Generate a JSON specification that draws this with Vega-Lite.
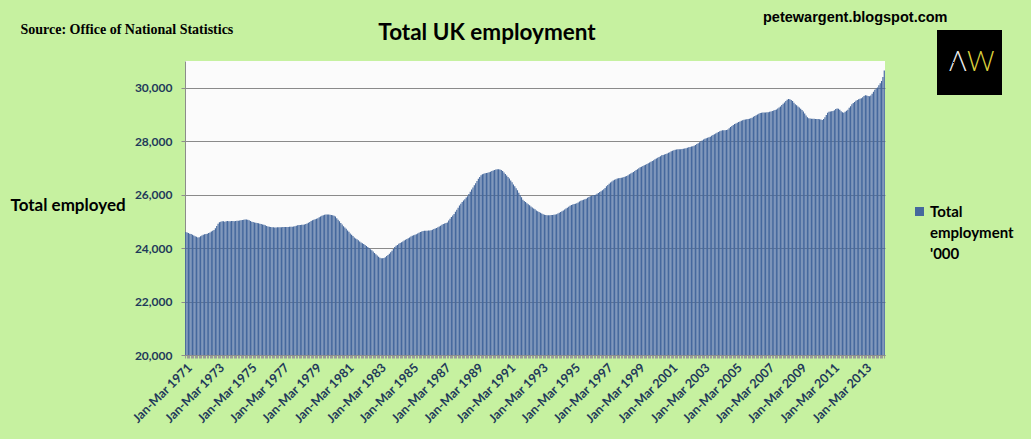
{
  "$schema": "https://vega.github.io/schema/vega-lite/v6.json",
  "width": 700,
  "height": 294,
  "autosize": "none",
  "padding": {"left": 185, "top": 61, "right": 146, "bottom": 84},
  "background": "#c6f1a0",
  "title": {
    "text": "Total UK employment",
    "font": "Lato",
    "fontSize": 22.5,
    "fontWeight": "bold",
    "color": "#000000",
    "anchor": "middle",
    "frame": "group",
    "dx": -48,
    "offset": -35
  },
  "data": {
    "values": [
      {"period": "Jan-Mar 1971", "employed": 24600}, {"period": "Feb-Apr 1971", "employed": 24580}, {"period": "Mar-May 1971", "employed": 24560}, {"period": "Apr-Jun 1971", "employed": 24540}, {"period": "May-Jul 1971", "employed": 24530}, {"period": "Jun-Aug 1971", "employed": 24500}, {"period": "Jul-Sep 1971", "employed": 24470}, {"period": "Aug-Oct 1971", "employed": 24440}, {"period": "Sep-Nov 1971", "employed": 24420}, {"period": "Oct-Dec 1971", "employed": 24400}, {"period": "Nov-Jan 1972", "employed": 24410}, {"period": "Dec-Feb 1972", "employed": 24440},
      {"period": "Jan-Mar 1972", "employed": 24470}, {"period": "Feb-Apr 1972", "employed": 24500}, {"period": "Mar-May 1972", "employed": 24520}, {"period": "Apr-Jun 1972", "employed": 24530}, {"period": "May-Jul 1972", "employed": 24540}, {"period": "Jun-Aug 1972", "employed": 24560}, {"period": "Jul-Sep 1972", "employed": 24580}, {"period": "Aug-Oct 1972", "employed": 24620}, {"period": "Sep-Nov 1972", "employed": 24650}, {"period": "Oct-Dec 1972", "employed": 24680}, {"period": "Nov-Jan 1973", "employed": 24740}, {"period": "Dec-Feb 1973", "employed": 24830},
      {"period": "Jan-Mar 1973", "employed": 24910}, {"period": "Feb-Apr 1973", "employed": 24970}, {"period": "Mar-May 1973", "employed": 24990}, {"period": "Apr-Jun 1973", "employed": 25000}, {"period": "May-Jul 1973", "employed": 25000}, {"period": "Jun-Aug 1973", "employed": 24990}, {"period": "Jul-Sep 1973", "employed": 25000}, {"period": "Aug-Oct 1973", "employed": 25010}, {"period": "Sep-Nov 1973", "employed": 25000}, {"period": "Oct-Dec 1973", "employed": 25000}, {"period": "Nov-Jan 1974", "employed": 25010}, {"period": "Dec-Feb 1974", "employed": 25010},
      {"period": "Jan-Mar 1974", "employed": 25000}, {"period": "Feb-Apr 1974", "employed": 25010}, {"period": "Mar-May 1974", "employed": 25020}, {"period": "Apr-Jun 1974", "employed": 25020}, {"period": "May-Jul 1974", "employed": 25030}, {"period": "Jun-Aug 1974", "employed": 25040}, {"period": "Jul-Sep 1974", "employed": 25050}, {"period": "Aug-Oct 1974", "employed": 25060}, {"period": "Sep-Nov 1974", "employed": 25070}, {"period": "Oct-Dec 1974", "employed": 25070}, {"period": "Nov-Jan 1975", "employed": 25060}, {"period": "Dec-Feb 1975", "employed": 25040},
      {"period": "Jan-Mar 1975", "employed": 25010}, {"period": "Feb-Apr 1975", "employed": 24990}, {"period": "Mar-May 1975", "employed": 24980}, {"period": "Apr-Jun 1975", "employed": 24960}, {"period": "May-Jul 1975", "employed": 24950}, {"period": "Jun-Aug 1975", "employed": 24940}, {"period": "Jul-Sep 1975", "employed": 24930}, {"period": "Aug-Oct 1975", "employed": 24910}, {"period": "Sep-Nov 1975", "employed": 24900}, {"period": "Oct-Dec 1975", "employed": 24880}, {"period": "Nov-Jan 1976", "employed": 24870}, {"period": "Dec-Feb 1976", "employed": 24850},
      {"period": "Jan-Mar 1976", "employed": 24830}, {"period": "Feb-Apr 1976", "employed": 24810}, {"period": "Mar-May 1976", "employed": 24800}, {"period": "Apr-Jun 1976", "employed": 24790}, {"period": "May-Jul 1976", "employed": 24780}, {"period": "Jun-Aug 1976", "employed": 24780}, {"period": "Jul-Sep 1976", "employed": 24770}, {"period": "Aug-Oct 1976", "employed": 24770}, {"period": "Sep-Nov 1976", "employed": 24780}, {"period": "Oct-Dec 1976", "employed": 24780}, {"period": "Nov-Jan 1977", "employed": 24780}, {"period": "Dec-Feb 1977", "employed": 24780},
      {"period": "Jan-Mar 1977", "employed": 24790}, {"period": "Feb-Apr 1977", "employed": 24790}, {"period": "Mar-May 1977", "employed": 24790}, {"period": "Apr-Jun 1977", "employed": 24790}, {"period": "May-Jul 1977", "employed": 24790}, {"period": "Jun-Aug 1977", "employed": 24800}, {"period": "Jul-Sep 1977", "employed": 24800}, {"period": "Aug-Oct 1977", "employed": 24800}, {"period": "Sep-Nov 1977", "employed": 24810}, {"period": "Oct-Dec 1977", "employed": 24820}, {"period": "Nov-Jan 1978", "employed": 24840}, {"period": "Dec-Feb 1978", "employed": 24850},
      {"period": "Jan-Mar 1978", "employed": 24860}, {"period": "Feb-Apr 1978", "employed": 24860}, {"period": "Mar-May 1978", "employed": 24870}, {"period": "Apr-Jun 1978", "employed": 24870}, {"period": "May-Jul 1978", "employed": 24880}, {"period": "Jun-Aug 1978", "employed": 24900}, {"period": "Jul-Sep 1978", "employed": 24920}, {"period": "Aug-Oct 1978", "employed": 24950}, {"period": "Sep-Nov 1978", "employed": 24980}, {"period": "Oct-Dec 1978", "employed": 25010}, {"period": "Nov-Jan 1979", "employed": 25040}, {"period": "Dec-Feb 1979", "employed": 25060},
      {"period": "Jan-Mar 1979", "employed": 25080}, {"period": "Feb-Apr 1979", "employed": 25100}, {"period": "Mar-May 1979", "employed": 25120}, {"period": "Apr-Jun 1979", "employed": 25150}, {"period": "May-Jul 1979", "employed": 25180}, {"period": "Jun-Aug 1979", "employed": 25210}, {"period": "Jul-Sep 1979", "employed": 25230}, {"period": "Aug-Oct 1979", "employed": 25250}, {"period": "Sep-Nov 1979", "employed": 25260}, {"period": "Oct-Dec 1979", "employed": 25260}, {"period": "Nov-Jan 1980", "employed": 25260}, {"period": "Dec-Feb 1980", "employed": 25250},
      {"period": "Jan-Mar 1980", "employed": 25240}, {"period": "Feb-Apr 1980", "employed": 25230}, {"period": "Mar-May 1980", "employed": 25210}, {"period": "Apr-Jun 1980", "employed": 25180}, {"period": "May-Jul 1980", "employed": 25120}, {"period": "Jun-Aug 1980", "employed": 25060}, {"period": "Jul-Sep 1980", "employed": 25000}, {"period": "Aug-Oct 1980", "employed": 24940}, {"period": "Sep-Nov 1980", "employed": 24880}, {"period": "Oct-Dec 1980", "employed": 24820}, {"period": "Nov-Jan 1981", "employed": 24770}, {"period": "Dec-Feb 1981", "employed": 24720},
      {"period": "Jan-Mar 1981", "employed": 24660}, {"period": "Feb-Apr 1981", "employed": 24610}, {"period": "Mar-May 1981", "employed": 24550}, {"period": "Apr-Jun 1981", "employed": 24500}, {"period": "May-Jul 1981", "employed": 24450}, {"period": "Jun-Aug 1981", "employed": 24400}, {"period": "Jul-Sep 1981", "employed": 24360}, {"period": "Aug-Oct 1981", "employed": 24330}, {"period": "Sep-Nov 1981", "employed": 24290}, {"period": "Oct-Dec 1981", "employed": 24250}, {"period": "Nov-Jan 1982", "employed": 24210}, {"period": "Dec-Feb 1982", "employed": 24180},
      {"period": "Jan-Mar 1982", "employed": 24150}, {"period": "Feb-Apr 1982", "employed": 24120}, {"period": "Mar-May 1982", "employed": 24080}, {"period": "Apr-Jun 1982", "employed": 24040}, {"period": "May-Jul 1982", "employed": 24000}, {"period": "Jun-Aug 1982", "employed": 23960}, {"period": "Jul-Sep 1982", "employed": 23920}, {"period": "Aug-Oct 1982", "employed": 23870}, {"period": "Sep-Nov 1982", "employed": 23820}, {"period": "Oct-Dec 1982", "employed": 23770}, {"period": "Nov-Jan 1983", "employed": 23720}, {"period": "Dec-Feb 1983", "employed": 23680},
      {"period": "Jan-Mar 1983", "employed": 23640}, {"period": "Feb-Apr 1983", "employed": 23620}, {"period": "Mar-May 1983", "employed": 23620}, {"period": "Apr-Jun 1983", "employed": 23630}, {"period": "May-Jul 1983", "employed": 23660}, {"period": "Jun-Aug 1983", "employed": 23700}, {"period": "Jul-Sep 1983", "employed": 23740}, {"period": "Aug-Oct 1983", "employed": 23790}, {"period": "Sep-Nov 1983", "employed": 23840}, {"period": "Oct-Dec 1983", "employed": 23900}, {"period": "Nov-Jan 1984", "employed": 23970}, {"period": "Dec-Feb 1984", "employed": 24040},
      {"period": "Jan-Mar 1984", "employed": 24090}, {"period": "Feb-Apr 1984", "employed": 24120}, {"period": "Mar-May 1984", "employed": 24160}, {"period": "Apr-Jun 1984", "employed": 24190}, {"period": "May-Jul 1984", "employed": 24220}, {"period": "Jun-Aug 1984", "employed": 24250}, {"period": "Jul-Sep 1984", "employed": 24280}, {"period": "Aug-Oct 1984", "employed": 24310}, {"period": "Sep-Nov 1984", "employed": 24340}, {"period": "Oct-Dec 1984", "employed": 24370}, {"period": "Nov-Jan 1985", "employed": 24400}, {"period": "Dec-Feb 1985", "employed": 24430},
      {"period": "Jan-Mar 1985", "employed": 24460}, {"period": "Feb-Apr 1985", "employed": 24480}, {"period": "Mar-May 1985", "employed": 24500}, {"period": "Apr-Jun 1985", "employed": 24520}, {"period": "May-Jul 1985", "employed": 24550}, {"period": "Jun-Aug 1985", "employed": 24570}, {"period": "Jul-Sep 1985", "employed": 24600}, {"period": "Aug-Oct 1985", "employed": 24620}, {"period": "Sep-Nov 1985", "employed": 24640}, {"period": "Oct-Dec 1985", "employed": 24650}, {"period": "Nov-Jan 1986", "employed": 24650}, {"period": "Dec-Feb 1986", "employed": 24650},
      {"period": "Jan-Mar 1986", "employed": 24660}, {"period": "Feb-Apr 1986", "employed": 24660}, {"period": "Mar-May 1986", "employed": 24670}, {"period": "Apr-Jun 1986", "employed": 24690}, {"period": "May-Jul 1986", "employed": 24710}, {"period": "Jun-Aug 1986", "employed": 24730}, {"period": "Jul-Sep 1986", "employed": 24750}, {"period": "Aug-Oct 1986", "employed": 24780}, {"period": "Sep-Nov 1986", "employed": 24810}, {"period": "Oct-Dec 1986", "employed": 24840}, {"period": "Nov-Jan 1987", "employed": 24870}, {"period": "Dec-Feb 1987", "employed": 24900},
      {"period": "Jan-Mar 1987", "employed": 24920}, {"period": "Feb-Apr 1987", "employed": 24940}, {"period": "Mar-May 1987", "employed": 24960}, {"period": "Apr-Jun 1987", "employed": 25030}, {"period": "May-Jul 1987", "employed": 25100}, {"period": "Jun-Aug 1987", "employed": 25160}, {"period": "Jul-Sep 1987", "employed": 25220}, {"period": "Aug-Oct 1987", "employed": 25280}, {"period": "Sep-Nov 1987", "employed": 25360}, {"period": "Oct-Dec 1987", "employed": 25430}, {"period": "Nov-Jan 1988", "employed": 25510}, {"period": "Dec-Feb 1988", "employed": 25590},
      {"period": "Jan-Mar 1988", "employed": 25660}, {"period": "Feb-Apr 1988", "employed": 25720}, {"period": "Mar-May 1988", "employed": 25780}, {"period": "Apr-Jun 1988", "employed": 25830}, {"period": "May-Jul 1988", "employed": 25890}, {"period": "Jun-Aug 1988", "employed": 25940}, {"period": "Jul-Sep 1988", "employed": 26020}, {"period": "Aug-Oct 1988", "employed": 26110}, {"period": "Sep-Nov 1988", "employed": 26190}, {"period": "Oct-Dec 1988", "employed": 26270}, {"period": "Nov-Jan 1989", "employed": 26350}, {"period": "Dec-Feb 1989", "employed": 26430},
      {"period": "Jan-Mar 1989", "employed": 26510}, {"period": "Feb-Apr 1989", "employed": 26590}, {"period": "Mar-May 1989", "employed": 26660}, {"period": "Apr-Jun 1989", "employed": 26730}, {"period": "May-Jul 1989", "employed": 26760}, {"period": "Jun-Aug 1989", "employed": 26780}, {"period": "Jul-Sep 1989", "employed": 26800}, {"period": "Aug-Oct 1989", "employed": 26810}, {"period": "Sep-Nov 1989", "employed": 26820}, {"period": "Oct-Dec 1989", "employed": 26840}, {"period": "Nov-Jan 1990", "employed": 26860}, {"period": "Dec-Feb 1990", "employed": 26880},
      {"period": "Jan-Mar 1990", "employed": 26900}, {"period": "Feb-Apr 1990", "employed": 26920}, {"period": "Mar-May 1990", "employed": 26940}, {"period": "Apr-Jun 1990", "employed": 26950}, {"period": "May-Jul 1990", "employed": 26950}, {"period": "Jun-Aug 1990", "employed": 26940}, {"period": "Jul-Sep 1990", "employed": 26920}, {"period": "Aug-Oct 1990", "employed": 26880}, {"period": "Sep-Nov 1990", "employed": 26830}, {"period": "Oct-Dec 1990", "employed": 26770}, {"period": "Nov-Jan 1991", "employed": 26720}, {"period": "Dec-Feb 1991", "employed": 26660},
      {"period": "Jan-Mar 1991", "employed": 26600}, {"period": "Feb-Apr 1991", "employed": 26530}, {"period": "Mar-May 1991", "employed": 26460}, {"period": "Apr-Jun 1991", "employed": 26380}, {"period": "May-Jul 1991", "employed": 26310}, {"period": "Jun-Aug 1991", "employed": 26240}, {"period": "Jul-Sep 1991", "employed": 26160}, {"period": "Aug-Oct 1991", "employed": 26070}, {"period": "Sep-Nov 1991", "employed": 25980}, {"period": "Oct-Dec 1991", "employed": 25900}, {"period": "Nov-Jan 1992", "employed": 25810}, {"period": "Dec-Feb 1992", "employed": 25760},
      {"period": "Jan-Mar 1992", "employed": 25720}, {"period": "Feb-Apr 1992", "employed": 25680}, {"period": "Mar-May 1992", "employed": 25640}, {"period": "Apr-Jun 1992", "employed": 25600}, {"period": "May-Jul 1992", "employed": 25560}, {"period": "Jun-Aug 1992", "employed": 25520}, {"period": "Jul-Sep 1992", "employed": 25480}, {"period": "Aug-Oct 1992", "employed": 25450}, {"period": "Sep-Nov 1992", "employed": 25410}, {"period": "Oct-Dec 1992", "employed": 25380}, {"period": "Nov-Jan 1993", "employed": 25350}, {"period": "Dec-Feb 1993", "employed": 25320},
      {"period": "Jan-Mar 1993", "employed": 25290}, {"period": "Feb-Apr 1993", "employed": 25270}, {"period": "Mar-May 1993", "employed": 25250}, {"period": "Apr-Jun 1993", "employed": 25240}, {"period": "May-Jul 1993", "employed": 25230}, {"period": "Jun-Aug 1993", "employed": 25230}, {"period": "Jul-Sep 1993", "employed": 25230}, {"period": "Aug-Oct 1993", "employed": 25240}, {"period": "Sep-Nov 1993", "employed": 25240}, {"period": "Oct-Dec 1993", "employed": 25250}, {"period": "Nov-Jan 1994", "employed": 25260}, {"period": "Dec-Feb 1994", "employed": 25270},
      {"period": "Jan-Mar 1994", "employed": 25290}, {"period": "Feb-Apr 1994", "employed": 25320}, {"period": "Mar-May 1994", "employed": 25350}, {"period": "Apr-Jun 1994", "employed": 25380}, {"period": "May-Jul 1994", "employed": 25410}, {"period": "Jun-Aug 1994", "employed": 25440}, {"period": "Jul-Sep 1994", "employed": 25480}, {"period": "Aug-Oct 1994", "employed": 25510}, {"period": "Sep-Nov 1994", "employed": 25550}, {"period": "Oct-Dec 1994", "employed": 25580}, {"period": "Nov-Jan 1995", "employed": 25610}, {"period": "Dec-Feb 1995", "employed": 25630},
      {"period": "Jan-Mar 1995", "employed": 25650}, {"period": "Feb-Apr 1995", "employed": 25660}, {"period": "Mar-May 1995", "employed": 25680}, {"period": "Apr-Jun 1995", "employed": 25710}, {"period": "May-Jul 1995", "employed": 25740}, {"period": "Jun-Aug 1995", "employed": 25770}, {"period": "Jul-Sep 1995", "employed": 25790}, {"period": "Aug-Oct 1995", "employed": 25810}, {"period": "Sep-Nov 1995", "employed": 25830}, {"period": "Oct-Dec 1995", "employed": 25850}, {"period": "Nov-Jan 1996", "employed": 25880}, {"period": "Dec-Feb 1996", "employed": 25910},
      {"period": "Jan-Mar 1996", "employed": 25940}, {"period": "Feb-Apr 1996", "employed": 25960}, {"period": "Mar-May 1996", "employed": 25980}, {"period": "Apr-Jun 1996", "employed": 25990}, {"period": "May-Jul 1996", "employed": 26000}, {"period": "Jun-Aug 1996", "employed": 26030}, {"period": "Jul-Sep 1996", "employed": 26060}, {"period": "Aug-Oct 1996", "employed": 26100}, {"period": "Sep-Nov 1996", "employed": 26130}, {"period": "Oct-Dec 1996", "employed": 26160}, {"period": "Nov-Jan 1997", "employed": 26200}, {"period": "Dec-Feb 1997", "employed": 26250},
      {"period": "Jan-Mar 1997", "employed": 26310}, {"period": "Feb-Apr 1997", "employed": 26360}, {"period": "Mar-May 1997", "employed": 26410}, {"period": "Apr-Jun 1997", "employed": 26450}, {"period": "May-Jul 1997", "employed": 26490}, {"period": "Jun-Aug 1997", "employed": 26530}, {"period": "Jul-Sep 1997", "employed": 26560}, {"period": "Aug-Oct 1997", "employed": 26580}, {"period": "Sep-Nov 1997", "employed": 26600}, {"period": "Oct-Dec 1997", "employed": 26610}, {"period": "Nov-Jan 1998", "employed": 26620}, {"period": "Dec-Feb 1998", "employed": 26630},
      {"period": "Jan-Mar 1998", "employed": 26640}, {"period": "Feb-Apr 1998", "employed": 26660}, {"period": "Mar-May 1998", "employed": 26680}, {"period": "Apr-Jun 1998", "employed": 26700}, {"period": "May-Jul 1998", "employed": 26730}, {"period": "Jun-Aug 1998", "employed": 26760}, {"period": "Jul-Sep 1998", "employed": 26790}, {"period": "Aug-Oct 1998", "employed": 26820}, {"period": "Sep-Nov 1998", "employed": 26850}, {"period": "Oct-Dec 1998", "employed": 26880}, {"period": "Nov-Jan 1999", "employed": 26920}, {"period": "Dec-Feb 1999", "employed": 26950},
      {"period": "Jan-Mar 1999", "employed": 26990}, {"period": "Feb-Apr 1999", "employed": 27020}, {"period": "Mar-May 1999", "employed": 27040}, {"period": "Apr-Jun 1999", "employed": 27070}, {"period": "May-Jul 1999", "employed": 27100}, {"period": "Jun-Aug 1999", "employed": 27120}, {"period": "Jul-Sep 1999", "employed": 27150}, {"period": "Aug-Oct 1999", "employed": 27170}, {"period": "Sep-Nov 1999", "employed": 27200}, {"period": "Oct-Dec 1999", "employed": 27230}, {"period": "Nov-Jan 2000", "employed": 27260}, {"period": "Dec-Feb 2000", "employed": 27290},
      {"period": "Jan-Mar 2000", "employed": 27320}, {"period": "Feb-Apr 2000", "employed": 27350}, {"period": "Mar-May 2000", "employed": 27380}, {"period": "Apr-Jun 2000", "employed": 27410}, {"period": "May-Jul 2000", "employed": 27440}, {"period": "Jun-Aug 2000", "employed": 27470}, {"period": "Jul-Sep 2000", "employed": 27480}, {"period": "Aug-Oct 2000", "employed": 27500}, {"period": "Sep-Nov 2000", "employed": 27520}, {"period": "Oct-Dec 2000", "employed": 27540}, {"period": "Nov-Jan 2001", "employed": 27570}, {"period": "Dec-Feb 2001", "employed": 27590},
      {"period": "Jan-Mar 2001", "employed": 27620}, {"period": "Feb-Apr 2001", "employed": 27640}, {"period": "Mar-May 2001", "employed": 27660}, {"period": "Apr-Jun 2001", "employed": 27680}, {"period": "May-Jul 2001", "employed": 27690}, {"period": "Jun-Aug 2001", "employed": 27700}, {"period": "Jul-Sep 2001", "employed": 27700}, {"period": "Aug-Oct 2001", "employed": 27700}, {"period": "Sep-Nov 2001", "employed": 27710}, {"period": "Oct-Dec 2001", "employed": 27720}, {"period": "Nov-Jan 2002", "employed": 27730}, {"period": "Dec-Feb 2002", "employed": 27740},
      {"period": "Jan-Mar 2002", "employed": 27750}, {"period": "Feb-Apr 2002", "employed": 27770}, {"period": "Mar-May 2002", "employed": 27780}, {"period": "Apr-Jun 2002", "employed": 27800}, {"period": "May-Jul 2002", "employed": 27810}, {"period": "Jun-Aug 2002", "employed": 27830}, {"period": "Jul-Sep 2002", "employed": 27860}, {"period": "Aug-Oct 2002", "employed": 27890}, {"period": "Sep-Nov 2002", "employed": 27920}, {"period": "Oct-Dec 2002", "employed": 27960}, {"period": "Nov-Jan 2003", "employed": 28000}, {"period": "Dec-Feb 2003", "employed": 28030},
      {"period": "Jan-Mar 2003", "employed": 28060}, {"period": "Feb-Apr 2003", "employed": 28090}, {"period": "Mar-May 2003", "employed": 28110}, {"period": "Apr-Jun 2003", "employed": 28130}, {"period": "May-Jul 2003", "employed": 28150}, {"period": "Jun-Aug 2003", "employed": 28170}, {"period": "Jul-Sep 2003", "employed": 28200}, {"period": "Aug-Oct 2003", "employed": 28230}, {"period": "Sep-Nov 2003", "employed": 28260}, {"period": "Oct-Dec 2003", "employed": 28290}, {"period": "Nov-Jan 2004", "employed": 28320}, {"period": "Dec-Feb 2004", "employed": 28340},
      {"period": "Jan-Mar 2004", "employed": 28370}, {"period": "Feb-Apr 2004", "employed": 28390}, {"period": "Mar-May 2004", "employed": 28410}, {"period": "Apr-Jun 2004", "employed": 28410}, {"period": "May-Jul 2004", "employed": 28410}, {"period": "Jun-Aug 2004", "employed": 28420}, {"period": "Jul-Sep 2004", "employed": 28440}, {"period": "Aug-Oct 2004", "employed": 28480}, {"period": "Sep-Nov 2004", "employed": 28530}, {"period": "Oct-Dec 2004", "employed": 28570}, {"period": "Nov-Jan 2005", "employed": 28610}, {"period": "Dec-Feb 2005", "employed": 28640},
      {"period": "Jan-Mar 2005", "employed": 28660}, {"period": "Feb-Apr 2005", "employed": 28690}, {"period": "Mar-May 2005", "employed": 28720}, {"period": "Apr-Jun 2005", "employed": 28740}, {"period": "May-Jul 2005", "employed": 28760}, {"period": "Jun-Aug 2005", "employed": 28780}, {"period": "Jul-Sep 2005", "employed": 28800}, {"period": "Aug-Oct 2005", "employed": 28810}, {"period": "Sep-Nov 2005", "employed": 28820}, {"period": "Oct-Dec 2005", "employed": 28830}, {"period": "Nov-Jan 2006", "employed": 28840}, {"period": "Dec-Feb 2006", "employed": 28860},
      {"period": "Jan-Mar 2006", "employed": 28880}, {"period": "Feb-Apr 2006", "employed": 28910}, {"period": "Mar-May 2006", "employed": 28940}, {"period": "Apr-Jun 2006", "employed": 28970}, {"period": "May-Jul 2006", "employed": 29000}, {"period": "Jun-Aug 2006", "employed": 29030}, {"period": "Jul-Sep 2006", "employed": 29050}, {"period": "Aug-Oct 2006", "employed": 29060}, {"period": "Sep-Nov 2006", "employed": 29070}, {"period": "Oct-Dec 2006", "employed": 29070}, {"period": "Nov-Jan 2007", "employed": 29070}, {"period": "Dec-Feb 2007", "employed": 29080},
      {"period": "Jan-Mar 2007", "employed": 29080}, {"period": "Feb-Apr 2007", "employed": 29100}, {"period": "Mar-May 2007", "employed": 29110}, {"period": "Apr-Jun 2007", "employed": 29130}, {"period": "May-Jul 2007", "employed": 29150}, {"period": "Jun-Aug 2007", "employed": 29170}, {"period": "Jul-Sep 2007", "employed": 29190}, {"period": "Aug-Oct 2007", "employed": 29220}, {"period": "Sep-Nov 2007", "employed": 29260}, {"period": "Oct-Dec 2007", "employed": 29300}, {"period": "Nov-Jan 2008", "employed": 29350}, {"period": "Dec-Feb 2008", "employed": 29400},
      {"period": "Jan-Mar 2008", "employed": 29450}, {"period": "Feb-Apr 2008", "employed": 29500}, {"period": "Mar-May 2008", "employed": 29550}, {"period": "Apr-Jun 2008", "employed": 29580}, {"period": "May-Jul 2008", "employed": 29570}, {"period": "Jun-Aug 2008", "employed": 29540}, {"period": "Jul-Sep 2008", "employed": 29500}, {"period": "Aug-Oct 2008", "employed": 29440}, {"period": "Sep-Nov 2008", "employed": 29380}, {"period": "Oct-Dec 2008", "employed": 29340}, {"period": "Nov-Jan 2009", "employed": 29300}, {"period": "Dec-Feb 2009", "employed": 29260},
      {"period": "Jan-Mar 2009", "employed": 29210}, {"period": "Feb-Apr 2009", "employed": 29170}, {"period": "Mar-May 2009", "employed": 29110}, {"period": "Apr-Jun 2009", "employed": 29040}, {"period": "May-Jul 2009", "employed": 28960}, {"period": "Jun-Aug 2009", "employed": 28900}, {"period": "Jul-Sep 2009", "employed": 28860}, {"period": "Aug-Oct 2009", "employed": 28850}, {"period": "Sep-Nov 2009", "employed": 28840}, {"period": "Oct-Dec 2009", "employed": 28840}, {"period": "Nov-Jan 2010", "employed": 28840}, {"period": "Dec-Feb 2010", "employed": 28830},
      {"period": "Jan-Mar 2010", "employed": 28830}, {"period": "Feb-Apr 2010", "employed": 28830}, {"period": "Mar-May 2010", "employed": 28820}, {"period": "Apr-Jun 2010", "employed": 28810}, {"period": "May-Jul 2010", "employed": 28790}, {"period": "Jun-Aug 2010", "employed": 28830}, {"period": "Jul-Sep 2010", "employed": 28900}, {"period": "Aug-Oct 2010", "employed": 28980}, {"period": "Sep-Nov 2010", "employed": 29060}, {"period": "Oct-Dec 2010", "employed": 29100}, {"period": "Nov-Jan 2011", "employed": 29110}, {"period": "Dec-Feb 2011", "employed": 29120},
      {"period": "Jan-Mar 2011", "employed": 29130}, {"period": "Feb-Apr 2011", "employed": 29160}, {"period": "Mar-May 2011", "employed": 29200}, {"period": "Apr-Jun 2011", "employed": 29220}, {"period": "May-Jul 2011", "employed": 29210}, {"period": "Jun-Aug 2011", "employed": 29180}, {"period": "Jul-Sep 2011", "employed": 29120}, {"period": "Aug-Oct 2011", "employed": 29080}, {"period": "Sep-Nov 2011", "employed": 29060}, {"period": "Oct-Dec 2011", "employed": 29100}, {"period": "Nov-Jan 2012", "employed": 29140}, {"period": "Dec-Feb 2012", "employed": 29180},
      {"period": "Jan-Mar 2012", "employed": 29250}, {"period": "Feb-Apr 2012", "employed": 29310}, {"period": "Mar-May 2012", "employed": 29380}, {"period": "Apr-Jun 2012", "employed": 29430}, {"period": "May-Jul 2012", "employed": 29470}, {"period": "Jun-Aug 2012", "employed": 29510}, {"period": "Jul-Sep 2012", "employed": 29540}, {"period": "Aug-Oct 2012", "employed": 29570}, {"period": "Sep-Nov 2012", "employed": 29590}, {"period": "Oct-Dec 2012", "employed": 29610}, {"period": "Nov-Jan 2013", "employed": 29640}, {"period": "Dec-Feb 2013", "employed": 29690},
      {"period": "Jan-Mar 2013", "employed": 29720}, {"period": "Feb-Apr 2013", "employed": 29710}, {"period": "Mar-May 2013", "employed": 29690}, {"period": "Apr-Jun 2013", "employed": 29680}, {"period": "May-Jul 2013", "employed": 29710}, {"period": "Jun-Aug 2013", "employed": 29770}, {"period": "Jul-Sep 2013", "employed": 29850}, {"period": "Aug-Oct 2013", "employed": 29920}, {"period": "Sep-Nov 2013", "employed": 29970}, {"period": "Oct-Dec 2013", "employed": 30010}, {"period": "Nov-Jan 2014", "employed": 30090}, {"period": "Dec-Feb 2014", "employed": 30170},
      {"period": "Jan-Mar 2014", "employed": 30250}, {"period": "Feb-Apr 2014", "employed": 30400}, {"period": "Mar-May 2014", "employed": 30640}
    ]
  },
  "encoding": {
    "x": {
      "field": "period",
      "type": "ordinal",
      "sort": null,
      "scale": {"paddingInner": 0.12, "paddingOuter": 0.1},
      "axis": {
        "labelExpr": "slice(datum.value, 0, 7) == 'Jan-Mar' && toNumber(slice(datum.value, 8)) % 2 == 1 ? datum.value : ''",
        "labelAngle": -45,
        "labelFont": "Lato",
        "labelFontWeight": "bold",
        "labelFontSize": 12.5,
        "labelColor": "#1f3a5a",
        "labelPadding": 3,
        "labelOverlap": false,
        "labelBound": false,
        "tickSize": 3,
        "tickColor": "#9a9a9a",
        "domainColor": "#8c8c8c",
        "title": "Source: Office of National Statistics",
        "titleX": -165,
        "titleY": -322,
        "titleAlign": "left",
        "titleBaseline": "alphabetic",
        "titleFont": "Liberation Serif",
        "titleFontSize": 14,
        "titleFontWeight": "bold",
        "titleColor": "#000000"
      }
    }
  },
  "layer": [
    {
      "mark": {"type": "bar", "clip": true},
      "encoding": {
        "y": {
          "field": "employed",
          "type": "quantitative",
          "scale": {"domain": [20000, 31000], "nice": false, "zero": false},
          "axis": {
            "values": [20000, 22000, 24000, 26000, 28000, 30000],
            "format": ",.0f",
            "labelFont": "Lato",
            "labelFontWeight": "bold",
            "labelFontSize": 12,
            "labelColor": "#1f3a5a",
            "labelPadding": 9,
            "tickSize": 4,
            "tickColor": "#8c8c8c",
            "domainColor": "#8c8c8c",
            "grid": true,
            "gridColor": "#8a8a8a",
            "title": "Total employed",
            "titleAngle": 0,
            "titleX": -175,
            "titleY": 144,
            "titleAlign": "left",
            "titleBaseline": "middle",
            "titleFont": "Lato",
            "titleFontSize": 17,
            "titleFontWeight": "bold",
            "titleColor": "#000000"
          }
        },
        "color": {
          "datum": "Total employment '000",
          "type": "nominal",
          "scale": {"range": ["#45689d"]},
          "legend": {
            "orient": "none",
            "legendX": 727,
            "legendY": 143,
            "title": null,
            "padding": 0,
            "symbolType": "square",
            "symbolSize": 81,
            "symbolStrokeWidth": 0,
            "labelFont": "Lato",
            "labelFontSize": 15,
            "labelFontWeight": "bold",
            "labelColor": "#000000",
            "labelOffset": 3,
            "labelLimit": 200,
            "labelBaseline": "alphabetic",
            "labelExpr": "split(datum.label, ' ')",
            "encode": {"labels": {"update": {"lineHeight": {"value": 21}, "dy": {"value": 5}}}}
          }
        }
      }
    },
    {
      "mark": {"type": "text", "clip": true, "color": "#000000"},
      "encoding": {
        "y": {
          "field": "employed",
          "type": "quantitative",
          "axis": {
            "orient": "right",
            "labels": false,
            "ticks": false,
            "domain": false,
            "grid": false,
            "title": "petewargent.blogspot.com",
            "titleAngle": 0,
            "titleX": 62,
            "titleY": -40,
            "titleAlign": "right",
            "titleBaseline": "alphabetic",
            "titleFont": "Liberation Sans",
            "titleFontSize": 14.5,
            "titleFontWeight": "bold",
            "titleColor": "#000000"
          }
        },
        "text": {"value": ""},
        "opacity": {
          "datum": "Λ",
          "type": "nominal",
          "scale": {"type": "ordinal", "range": [1]},
          "legend": {
            "orient": "none",
            "legendX": 752,
            "legendY": -31,
            "zindex": 1,
            "title": null,
            "padding": 0,
            "symbolType": "square",
            "symbolSize": 4225,
            "symbolStrokeWidth": 0,
            "symbolFillColor": "#000000",
            "labelOffset": -53,
            "labelFont": "Lato",
            "labelFontSize": 27,
            "labelFontWeight": 300,
            "labelColor": "#f0f0f0",
            "labelBaseline": "middle",
            "encode": {"symbols": {"update": {"fill": {"value": "#000000"}, "opacity": {"value": 1}}}}
          }
        },
        "size": {
          "datum": "W",
          "type": "nominal",
          "scale": {"type": "ordinal", "range": [1]},
          "legend": {
            "orient": "none",
            "legendX": 755,
            "legendY": -12,
            "zindex": 3,
            "title": null,
            "padding": 0,
            "symbolType": "square",
            "symbolFillColor": "#000000",
            "symbolStrokeWidth": 0,
            "labelOffset": 0,
            "labelFont": "Lato",
            "labelFontSize": 27,
            "labelFontWeight": 300,
            "labelColor": "#dcd23c",
            "labelBaseline": "middle"
          }
        }
      }
    }
  ],
  "resolve": {"axis": {"y": "independent"}},
  "config": {"view": {"fill": "#fbfbfb", "stroke": null}}
}
